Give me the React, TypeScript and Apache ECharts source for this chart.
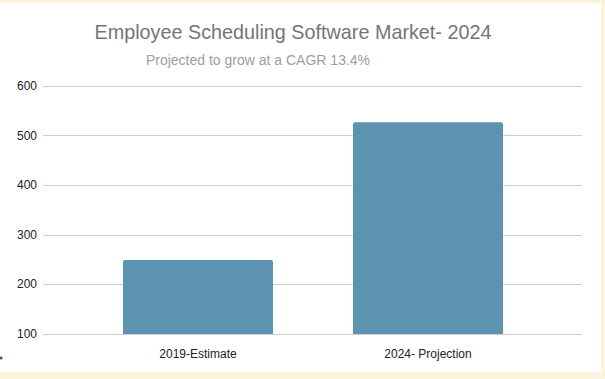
import React, { useEffect, useRef } from "react";
import * as echarts from "echarts";

const categories = ["2019-Estimate", "2024- Projection"];
const marketValues = [249, 527];
const yMin = 100;
const yMax = 600;
const yInterval = 100;
const titleText = "Employee Scheduling Software Market- 2024";
const subtitleText = "Projected to grow at a CAGR 13.4%";

export default function App() {
  const ref = useRef<HTMLDivElement>(null);
  useEffect(() => {
    document.body.style.margin = "0";
    if (!ref.current) return;
    const chart = echarts.init(ref.current, null, { renderer: "svg" });
    const font = "Liberation Sans, Arial, sans-serif";
    chart.setOption({
      animation: false,
      textStyle: { fontFamily: font },
      graphic: [
        {
          type: "text",
          style: {
            text: titleText,
            x: 293,
            y: 32,
            align: "center",
            verticalAlign: "middle",
            fontSize: 19.8,
            fontFamily: font,
            fill: "#757575",
          },
        },
        {
          type: "text",
          style: {
            text: subtitleText,
            x: 258,
            y: 60,
            align: "center",
            verticalAlign: "middle",
            fontSize: 14,
            fontFamily: font,
            fill: "#9e9e9e",
          },
        },
        {
          type: "circle",
          shape: { cx: 1, cy: 358, r: 1.5 },
          style: { fill: "#1e6b3a" },
        },
      ],
      grid: [
        { left: 43, right: 23, top: 86, bottom: 45 },
        { left: 83, right: 62, top: 86, bottom: 45 },
      ],
      xAxis: [
        { type: "category", gridIndex: 0, data: categories, show: false },
        {
          type: "category",
          gridIndex: 1,
          data: categories,
          axisLine: { show: false },
          axisTick: { show: false },
          axisLabel: { color: "#222", fontSize: 12, margin: 14, fontFamily: font },
        },
      ],
      yAxis: [
        {
          type: "value",
          gridIndex: 0,
          min: yMin,
          max: yMax,
          interval: yInterval,
          axisLine: { show: false },
          axisTick: { show: false },
          axisLabel: { color: "#222", fontSize: 12, margin: 6, fontFamily: font },
          splitLine: { lineStyle: { color: "#cfcfcf", width: 1 } },
        },
        {
          type: "value",
          gridIndex: 1,
          min: yMin,
          max: yMax,
          interval: yInterval,
          show: false,
          splitLine: { show: false },
        },
      ],
      series: [
        {
          type: "bar",
          xAxisIndex: 1,
          yAxisIndex: 1,
          data: marketValues,
          barWidth: 150,
          itemStyle: { color: "#5b93b0", borderRadius: [2, 2, 0, 0] },
        },
      ],
    });
    return () => chart.dispose();
  }, []);
  return (
    <div style={{ position: "relative", width: 605, height: 379, background: "#fdf3dc" }}>
      <div
        style={{ position: "absolute", left: 0, top: 3, width: 601, height: 369, background: "#ffffff" }}
      />
      <div ref={ref} style={{ position: "absolute", left: 0, top: 0, width: 605, height: 379 }} />
    </div>
  );
}
